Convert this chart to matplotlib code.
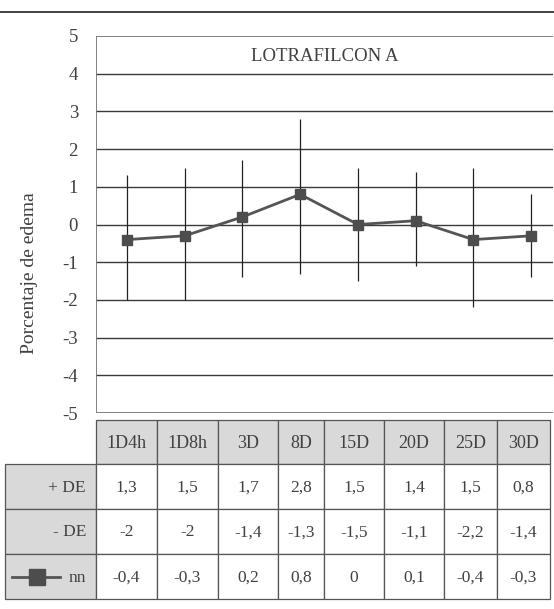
import matplotlib
matplotlib.use("Agg")

import numpy as np
import matplotlib.pyplot as plt
from matplotlib.patches import Rectangle
from matplotlib.lines import Line2D

# ── data ─────────────────────────────────────────────────────
categories = ["1D4h", "1D8h", "3D", "8D", "15D", "20D", "25D", "30D"]
plus_de    = [1.3, 1.5, 1.7, 2.8, 1.5, 1.4, 1.5, 0.8]
minus_de   = [-2, -2, -1.4, -1.3, -1.5, -1.1, -2.2, -1.4]
nn         = [-0.4, -0.3, 0.2, 0.8, 0, 0.1, -0.4, -0.3]
row_labels = ["+ DE", "- DE", "nn"]

TITLE  = "LOTRAFILCON A"
YLABEL = "Porcentaje de edema"

# ── style ────────────────────────────────────────────────────
W, H = 554, 609
FONT = "Liberation Serif"
TXT = "#404040"
GRID = "#3a3a3a"
LINE = "#555555"
HDR_FILL = "#d9d9d9"
BORDER = "#555555"

plt.rcParams["font.family"] = [FONT, "DejaVu Serif"]
plt.rcParams["axes.unicode_minus"] = False


def fmt(v):
    s = f"{v:g}"
    return s.replace(".", ",")


fig = plt.figure(figsize=(W / 100, H / 100), dpi=100)

# pixel-space overlay for the rule line and the data table
pix = fig.add_axes([0, 0, 1, 1], zorder=0)
pix.set_xlim(0, W)
pix.set_ylim(H, 0)
pix.axis("off")

# plot area in pixels
PL, PR, PT, PB = 96, 553, 36, 413
ax = fig.add_axes([PL / W, 1 - PB / H, (PR - PL) / W, (PB - PT) / H], zorder=1)
ax.patch.set_alpha(0)

x = np.arange(len(categories))
ax.set_xlim(-0.537, 7.38)
ax.set_ylim(-5, 5)
ax.set_yticks(range(-5, 6))
ax.set_xticks([])
for y in range(-4, 5):
    ax.axhline(y, color=GRID, lw=1.0, zorder=1)
for s in ("right", "bottom", "top", "left"):
    ax.spines[s].set_visible(False)
ax.axhline(5, color="#777777", lw=1.3, zorder=1)
ax.axhline(-5, color="#777777", lw=1.3, zorder=1)
ax.axvline(-0.537, color="#777777", lw=1.3, zorder=1)
ax.tick_params(axis="y", length=0, pad=13, labelsize=13.5, labelcolor=TXT)

# error bars span from -DE to +DE
ax.vlines(x, minus_de, plus_de, color="#222222", lw=0.9, zorder=2)
ax.plot(x, nn, color=LINE, lw=2.0, marker="s", markersize=7.2,
        markerfacecolor="#4d4d4d", markeredgecolor="#4d4d4d", zorder=3)

ax.text(0.5, 0.945, TITLE, transform=ax.transAxes, ha="center", va="center",
        fontsize=13.5, color=TXT)

pix.text(30, 273, YLABEL, rotation=90, ha="center", va="center",
         fontsize=14, color=TXT)

# top rule
pix.plot([0, W], [12, 12], color="#333333", lw=1.3)

# ── data table ───────────────────────────────────────────────
col_edges = [96, 157, 218, 278, 324, 384, 444, 497, 550]
row_edges = [420, 464, 509, 554, 599]
hdr_left = 5
FS = 12.5

# header row
for j, cat in enumerate(categories):
    x0, x1 = col_edges[j], col_edges[j + 1]
    pix.add_patch(Rectangle((x0, row_edges[0]), x1 - x0, row_edges[1] - row_edges[0],
                            facecolor=HDR_FILL, edgecolor=BORDER, lw=0.9))
    pix.text((x0 + x1) / 2, (row_edges[0] + row_edges[1]) / 2 + 1, cat,
             ha="center", va="center", fontsize=FS + 0.5, color=TXT)

rows = [plus_de, minus_de, nn]
for i, (label, vals) in enumerate(zip(row_labels, rows)):
    y0, y1 = row_edges[i + 1], row_edges[i + 2]
    ym = (y0 + y1) / 2 + 1
    pix.add_patch(Rectangle((hdr_left, y0), col_edges[0] - hdr_left, y1 - y0,
                            facecolor=HDR_FILL, edgecolor=BORDER, lw=0.9))
    pix.text(86, ym, label, ha="right", va="center", fontsize=FS, color=TXT)
    for j, v in enumerate(vals):
        x0, x1 = col_edges[j], col_edges[j + 1]
        pix.add_patch(Rectangle((x0, y0), x1 - x0, y1 - y0,
                                facecolor="white", edgecolor=BORDER, lw=0.9))
        pix.text((x0 + x1) / 2, ym, fmt(v), ha="center", va="center",
                 fontsize=FS, color=TXT)

# legend key in the series row header
ky = (row_edges[3] + row_edges[4]) / 2
pix.add_line(Line2D([12, 60], [ky, ky], color=LINE, lw=2.0, marker=None))
pix.add_line(Line2D([37], [ky], marker="s", markersize=11,
                    markerfacecolor="#4d4d4d", markeredgecolor="#4d4d4d", lw=0))

fig.savefig("out.png", dpi=100)
